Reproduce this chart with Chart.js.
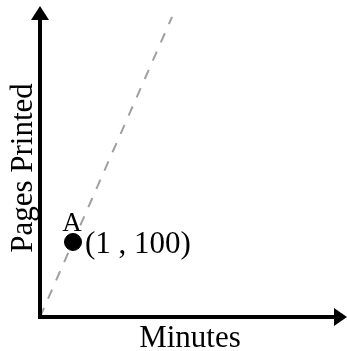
<!DOCTYPE html>
<html lang="en">

<head>
    <meta charset="utf-8">
    <title>Pages Printed</title>
    <style>
        body { margin: 0; background: white; }
        canvas { display: block; }
    </style>
</head>

<body>
    <canvas id="myChart" width="347" height="351"></canvas>
    <script type="text/javascript" src="https://cdn.jsdelivr.net/npm/chart.js/dist/chart.umd.min.js"></script>
    <script>
        // data
        const lineX = [0, 4];
        const lineY = [0, 400];
        const pointX = [1];
        const pointY = [100];
        const pointNames = ['A'];
        const pointCoords = ['(1 , 100)'];
        const xTitle = 'Minutes';
        const yTitle = 'Pages Printed';

        const serif = '"Liberation Serif", "DejaVu Serif", serif';

        // axes with arrows + text labels
        const axesPlugin = {
            id: 'axesPlugin',
            afterDatasetsDraw(chart) {
                const ctx = chart.ctx;
                const x0 = chart.scales.x.getPixelForValue(0);
                const y0 = chart.scales.y.getPixelForValue(0);
                ctx.save();
                ctx.strokeStyle = 'black';
                ctx.fillStyle = 'black';
                ctx.lineWidth = 4;
                ctx.beginPath();
                ctx.moveTo(x0, y0 + 2);
                ctx.lineTo(x0, 18);
                ctx.moveTo(x0 - 2, y0);
                ctx.lineTo(chart.width - 10, y0);
                ctx.stroke();
                // y arrow
                ctx.beginPath();
                ctx.moveTo(x0, 6);
                ctx.lineTo(x0 + 9, 20);
                ctx.lineTo(x0 - 9, 20);
                ctx.closePath();
                ctx.fill();
                // x arrow
                ctx.beginPath();
                ctx.moveTo(chart.width, y0);
                ctx.lineTo(chart.width - 13, y0 - 9);
                ctx.lineTo(chart.width - 13, y0 + 9);
                ctx.closePath();
                ctx.fill();

                ctx.font = '31px ' + serif;
                ctx.textAlign = 'center';
                ctx.textBaseline = 'alphabetic';
                ctx.fillText(xTitle, 190, 347);

                ctx.save();
                ctx.translate(32, 168);
                ctx.rotate(-Math.PI / 2);
                ctx.fillText(yTitle, 0, 0);
                ctx.restore();

                const pts = chart.getDatasetMeta(1).data;
                pts.forEach((p, i) => {
                    ctx.textAlign = 'center';
                    ctx.font = '27px ' + serif;
                    ctx.fillText(pointNames[i], p.x - 1, p.y - 11);
                    ctx.textAlign = 'left';
                    ctx.font = '31px ' + serif;
                    ctx.fillText(pointCoords[i], p.x + 12, p.y + 11);
                });
                ctx.restore();
            }
        };

        const data = {
            datasets: [{
                type: 'line',
                order: 2,
                data: lineX.map((x, i) => ({ x: x, y: lineY[i] })),
                borderColor: '#a0a0a0',
                borderWidth: 2,
                borderDash: [10, 10],
                pointRadius: 0,
                fill: false
            }, {
                type: 'scatter',
                order: 1,
                data: pointX.map((x, i) => ({ x: x, y: pointY[i] })),
                backgroundColor: 'black',
                borderColor: 'black',
                pointRadius: 8.5,
                pointHoverRadius: 8.5
            }]
        };

        const config = {
            type: 'scatter',
            data,
            options: {
                responsive: false,
                animation: false,
                clip: false,
                layout: {
                    padding: { left: 40, right: 10, top: 17, bottom: 34 }
                },
                plugins: {
                    legend: { display: false },
                    tooltip: { enabled: false }
                },
                scales: {
                    x: { type: 'linear', min: 0, max: 9, display: false },
                    y: { type: 'linear', min: 0, max: 400, display: false }
                }
            },
            plugins: [axesPlugin]
        };

        const myChart = new Chart(
            document.getElementById('myChart'),
            config
        );
    </script>
</body>

</html>
